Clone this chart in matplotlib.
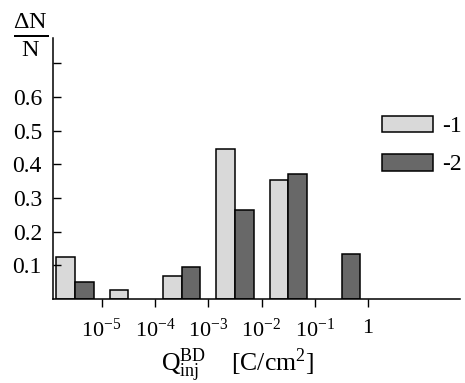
import matplotlib
matplotlib.use("Agg")
import matplotlib.pyplot as plt
import numpy as np

# Data: charge bins (log10 of bin centre) and relative change dN/N
bin_centers_log = [-5.5, -4.5, -3.5, -2.5, -1.5, -0.5]
series1 = [0.125, 0.028, 0.070, 0.445, 0.352, 0.0]
series2 = [0.052, 0.0, 0.095, 0.265, 0.372, 0.133]
series_labels = ["-1", "-2"]
xtick_pos = [-5, -4, -3, -2, -1, 0]
xtick_labels = [r"$\mathregular{10^{-5}}$", r"$\mathregular{10^{-4}}$", r"$\mathregular{10^{-3}}$",
                r"$\mathregular{10^{-2}}$", r"$\mathregular{10^{-1}}$", "1"]
ytick_pos = [0.1, 0.2, 0.3, 0.4, 0.5, 0.6, 0.7]
ytick_labels = ["0.1", "0.2", "0.3", "0.4", "0.5", "0.6", ""]

plt.rcParams["font.family"] = ["Liberation Serif", "DejaVu Serif"]
plt.rcParams["mathtext.fontset"] = "custom"
plt.rcParams["mathtext.rm"] = "Liberation Serif"
plt.rcParams["mathtext.it"] = "Liberation Serif:italic"

fig = plt.figure(figsize=(4.65, 3.83), dpi=100)
ax = fig.add_axes([0.114, 0.219, 0.875, 0.682])

w = 0.35
x = np.array(bin_centers_log)
light = "#d9d9d9"
dark = "#686868"
b1 = ax.bar(x - w / 2, series1, width=w, color=light, edgecolor="black", linewidth=1.1,
            label=series_labels[0])
b2 = ax.bar(x + w / 2, series2, width=w, color=dark, edgecolor="black", linewidth=1.1,
            label=series_labels[1])
# hide zero-height bars' edges
for b, v in zip(list(b1) + list(b2), series1 + series2):
    if v == 0:
        b.set_visible(False)

ax.set_xlim(-5.91, 1.72)
ax.set_ylim(0, 0.775)
ax.set_xticks(xtick_pos)
ax.set_xticklabels(xtick_labels, fontsize=16)
ax.set_yticks(ytick_pos)
ax.set_yticklabels(ytick_labels, fontsize=17)
ax.tick_params(axis="y", direction="in", length=6, width=1, pad=8)
ax.tick_params(axis="x", direction="out", length=6, width=1, pad=8)
for s in ["top", "right"]:
    ax.spines[s].set_visible(False)
for s in ["left", "bottom"]:
    ax.spines[s].set_linewidth(1.1)

fig.text(0.065, 0.91, r"$\mathregular{\frac{\Delta N}{N}}$", fontsize=25, ha="center", va="center")
fig.text(0.51, 0.047, r"$\mathregular{Q_{inj}^{BD}}$    [C/cm$\mathregular{^2}$]", fontsize=18.5,
         ha="center", va="center")

leg = ax.legend(loc="upper left", bbox_to_anchor=(0.786, 0.739), frameon=False, fontsize=17,
                handlelength=2.15, handleheight=0.72, handletextpad=0.4, labelspacing=0.7,
                borderaxespad=0)

fig.savefig("out.png", dpi=100)
